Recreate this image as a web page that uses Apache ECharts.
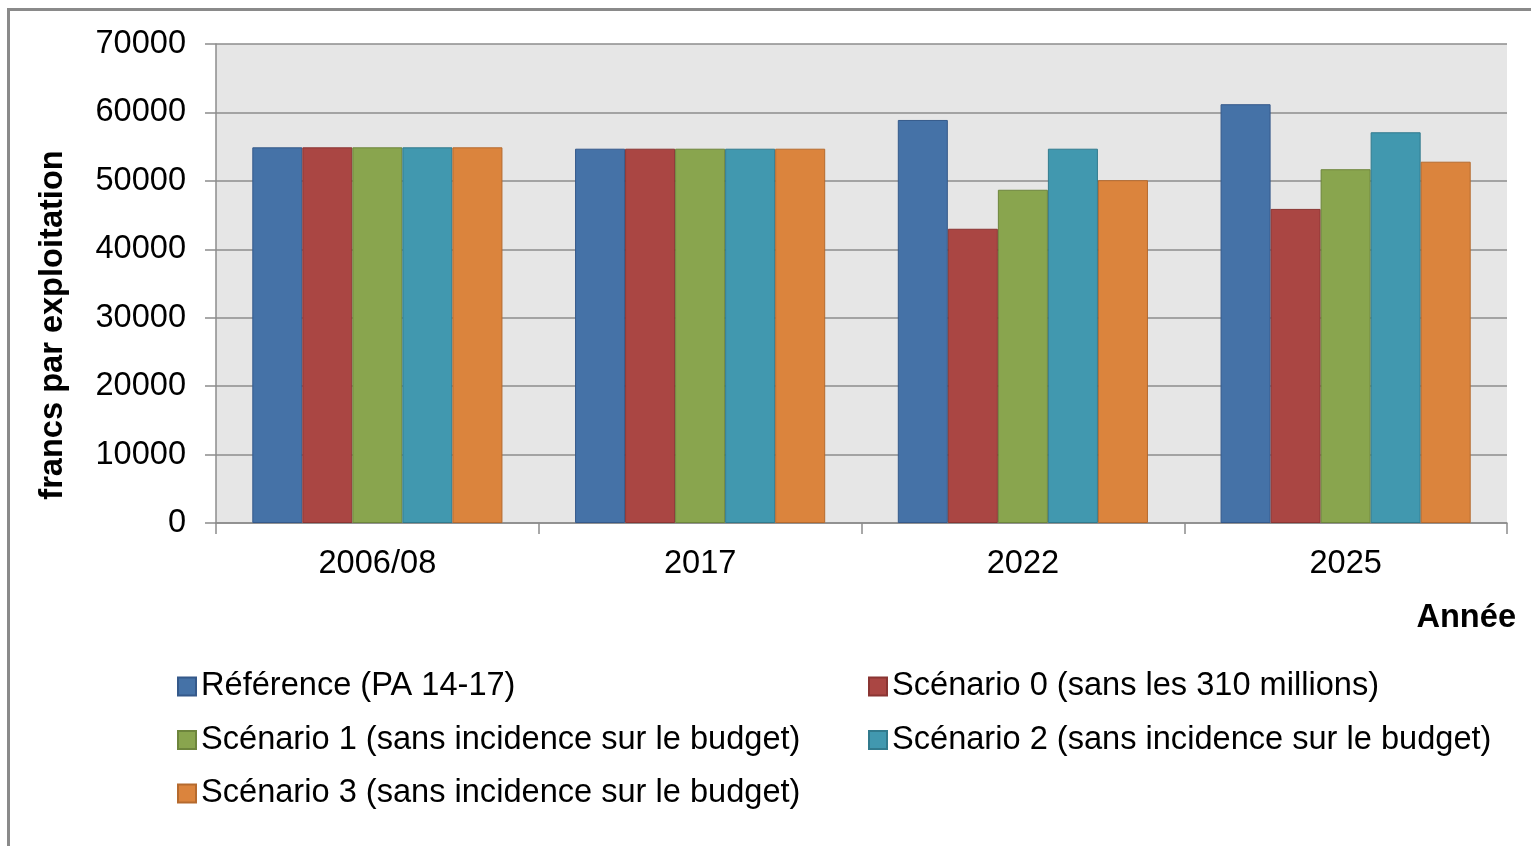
<!DOCTYPE html>
<html>
<head>
    <meta charset="utf-8">
    <script src="https://cdn.jsdelivr.net/npm/echarts@6/dist/echarts.min.js"></script>
    <style>
        html, body { margin: 0; padding: 0; background: #fff; }
    </style>
</head>
<body>
<div id="main" style="width: 1531px;height: 846px;"></div>
<script type="text/javascript">
    // années
    var annees = ['2006/08', '2017', '2022', '2025'];
    // francs par exploitation, par scénario
    var reference = [54900, 54700, 58900, 61200];
    var scenario0 = [54900, 54700, 43000, 45900];
    var scenario1 = [54900, 54700, 48700, 51700];
    var scenario2 = [54900, 54700, 54700, 57100];
    var scenario3 = [54900, 54700, 50100, 52800];

    var noms = [
        'Référence (PA 14-17)',
        'Scénario 0 (sans les 310 millions)',
        'Scénario 1 (sans incidence sur le budget)',
        'Scénario 2 (sans incidence sur le budget)',
        'Scénario 3 (sans incidence sur le budget)'
    ];
    var valeurs = [reference, scenario0, scenario1, scenario2, scenario3];
    var couleurs = ['#4572A7', '#AA4643', '#89A54E', '#4198AF', '#DB843D'];
    var bordures = ['#35598a', '#8a3533', '#6d853c', '#317a8d', '#b56a2e'];

    var police = 'Liberation Sans, Arial, sans-serif';

    var series = [];
    for (var i = 0; i < noms.length; i++) {
        series.push({
            name: noms[i],
            type: 'bar',
            data: valeurs[i],
            barGap: '0%',
            barCategoryGap: '22.5%',
            itemStyle: {
                color: couleurs[i],
                borderColor: bordures[i],
                borderWidth: 1
            }
        });
    }

    var legendeTexte = {
        fontFamily: police,
        fontSize: 32.6,
        color: '#000',
        lineHeight: 32
    };

    var myChart = echarts.init(document.getElementById('main'));
    var option = {
        animation: false,
        textStyle: { fontFamily: police },
        grid: {
            left: 216,
            right: 24,
            top: 44,
            bottom: 323,
            show: true,
            backgroundColor: '#E6E6E6',
            borderWidth: 0
        },
        legend: [{
            data: [noms[0], noms[2], noms[4]],
            orient: 'vertical',
            left: 172,
            top: 665,
            itemWidth: 18,
            itemHeight: 18,
            itemGap: 20.5,
            icon: 'rect',
            textStyle: legendeTexte
        }, {
            data: [noms[1], noms[3]],
            orient: 'vertical',
            left: 863,
            top: 665,
            itemWidth: 18,
            itemHeight: 18,
            itemGap: 20.5,
            icon: 'rect',
            textStyle: legendeTexte
        }],
        xAxis: {
            type: 'category',
            data: annees,
            axisLine: { show: true, lineStyle: { color: '#8c8c8c', width: 1.5 } },
            axisTick: { show: true, length: 11, lineStyle: { color: '#8c8c8c', width: 1.5 } },
            axisLabel: { fontSize: 32.6, color: '#000', margin: 25 }
        },
        yAxis: {
            type: 'value',
            min: 0,
            max: 70000,
            interval: 10000,
            axisLine: { show: true, lineStyle: { color: '#8c8c8c', width: 1.5 } },
            axisTick: { show: true, length: 11, lineStyle: { color: '#8c8c8c', width: 1.5 } },
            axisLabel: {
                fontSize: 32.6,
                color: '#000',
                margin: 30,
                formatter: function (v) { return String(v); }
            },
            splitLine: { show: true, lineStyle: { color: '#8c8c8c', width: 1.5 } }
        },
        graphic: [{
            type: 'rect',
            silent: true,
            shape: { x: 8.5, y: 9.5, width: 1600, height: 900 },
            style: { fill: null, stroke: '#8a8a8a', lineWidth: 3 }
        }, {
            type: 'text',
            x: 53,
            y: 325,
            rotation: Math.PI / 2,
            style: {
                text: 'francs par exploitation',
                fontFamily: police,
                fontSize: 32.6,
                fontWeight: 'bold',
                fill: '#000',
                textAlign: 'center',
                textVerticalAlign: 'middle'
            }
        }, {
            type: 'text',
            right: 15,
            top: 602,
            style: {
                text: 'Année',
                fontFamily: police,
                fontSize: 32.6,
                fontWeight: 'bold',
                fill: '#000'
            }
        }],
        series: series
    };
    myChart.setOption(option);
</script>
</body>
</html>
